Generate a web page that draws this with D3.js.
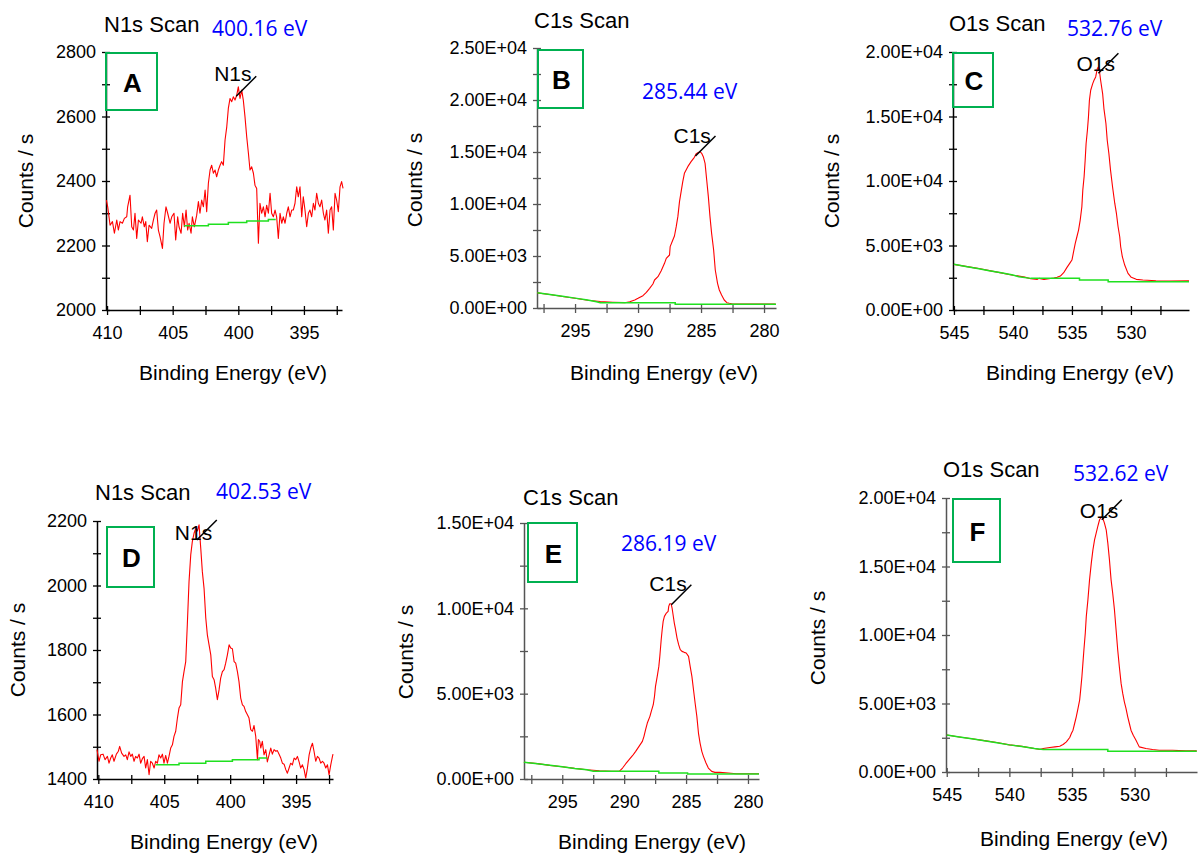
<!DOCTYPE html>
<html>
<head>
<meta charset="utf-8">
<script src="https://cdn.jsdelivr.net/npm/d3@7"></script>
<style>
  body { margin: 0; background: #fff; }
  svg { display: block; }
</style>
</head>
<body>
<div id="chart"></div>
<script>
// data
const panelIds = ['A', 'B', 'C', 'D', 'E', 'F'];
const scanTitles = ['N1s Scan', 'C1s Scan', 'O1s Scan', 'N1s Scan', 'C1s Scan', 'O1s Scan'];
const peakNames = ['N1s', 'C1s', 'O1s', 'N1s', 'C1s', 'O1s'];
const peakEnergies = [400.16, 285.44, 532.76, 402.53, 286.19, 532.62];
const peakMarkCounts = [2663, 14615, 18351, 2141, 10212, 18412];
const xDomains = [[410.08, 392.1], [298.02, 279.05], [545.08, 525.08], [410.1, 392.2], [298.09, 279.11], [545.06, 525.02]];
const yDomains = [[2000, 2800], [0, 25000], [0, 20000], [1400, 2200], [0, 15000], [0, 20000]];
const xTickStep = 2.5;
const xLabelStep = 5;
const yTickSteps = [100, 2500, 2500, 100, 2500, 2500];
const yLabelSteps = [200, 5000, 5000, 200, 5000, 5000];

// [binding energy (eV), counts / s]
const spectrumA = [[410.05,2341],[409.95,2320],[409.77,2263],[409.59,2274],[409.44,2238],[409.26,2279],[409.14,2248],[409.01,2274],[408.83,2269],[408.68,2284],[408.50,2289],[408.43,2320],[408.25,2356],[408.12,2258],[407.99,2248],[407.87,2300],[407.74,2222],[407.61,2279],[407.41,2269],[407.31,2289],[407.16,2258],[407.05,2274],[406.93,2212],[406.80,2263],[406.60,2253],[406.47,2279],[406.34,2300],[406.22,2310],[406.09,2248],[405.96,2227],[405.78,2191],[405.66,2269],[405.51,2320],[405.38,2300],[405.20,2269],[405.07,2289],[404.90,2300],[404.77,2217],[404.62,2289],[404.52,2258],[404.36,2238],[404.24,2300],[404.11,2258],[403.98,2310],[403.86,2248],[403.75,2269],[403.60,2238],[403.50,2289],[403.35,2258],[403.17,2294],[403.04,2336],[402.92,2300],[402.79,2341],[402.66,2320],[402.53,2372],[402.41,2305],[402.28,2393],[402.15,2434],[402.03,2449],[401.90,2424],[401.77,2434],[401.65,2413],[401.52,2434],[401.39,2449],[401.27,2460],[401.14,2449],[401.01,2527],[400.88,2568],[400.76,2625],[400.63,2656],[400.50,2646],[400.38,2661],[400.25,2651],[400.12,2666],[400.00,2692],[399.87,2656],[399.74,2682],[399.62,2651],[399.49,2599],[399.36,2537],[399.23,2486],[399.11,2434],[398.98,2444],[398.85,2424],[398.73,2387],[398.60,2377],[398.47,2207],[398.35,2331],[398.22,2300],[398.09,2320],[397.96,2289],[397.84,2325],[397.71,2300],[397.58,2362],[397.46,2300],[397.33,2289],[397.20,2310],[397.08,2289],[396.95,2222],[396.82,2300],[396.69,2269],[396.57,2289],[396.44,2269],[396.31,2300],[396.19,2320],[396.06,2289],[395.93,2310],[395.81,2310],[395.68,2331],[395.55,2382],[395.43,2351],[395.30,2382],[395.17,2289],[395.05,2351],[394.92,2310],[394.79,2258],[394.66,2300],[394.54,2310],[394.41,2289],[394.28,2331],[394.16,2310],[394.03,2362],[393.90,2331],[393.78,2320],[393.65,2341],[393.52,2300],[393.40,2279],[393.27,2310],[393.14,2238],[393.01,2310],[392.89,2320],[392.76,2248],[392.63,2362],[392.51,2341],[392.38,2305],[392.25,2382],[392.13,2398],[392.02,2377]];
const backgroundA = [[404.13,2261],[402.28,2261],[402.28,2266],[400.76,2266],[400.76,2271],[399.36,2271],[399.36,2276],[397.71,2276],[397.71,2281],[397.15,2281]];

const spectrumB = [[298.0,1450],[297.0,1300],[296.0,1100],[295.0,930],[294.0,750],[293.0,620],[292.0,560],[291.05,513],[290.66,609],[290.26,770],[290.00,930],[289.61,1186],[289.34,1507],[289.08,1891],[288.82,2308],[288.69,2692],[288.42,3013],[288.16,3590],[287.90,4295],[287.76,4776],[287.50,5096],[287.45,5898],[287.24,6539],[287.11,6923],[286.97,7820],[286.84,8782],[286.71,10224],[286.58,11186],[286.45,12147],[286.32,12949],[286.05,13590],[285.79,14070],[285.53,14487],[285.40,14807],[285.26,14936],[285.08,15032],[284.95,14872],[284.82,14551],[284.68,13910],[284.55,12308],[284.42,10705],[284.29,8782],[284.16,7179],[284.00,5577],[283.87,3654],[283.69,2372],[283.55,1731],[283.37,1250],[283.16,770],[282.95,513],[282.76,449],[282.50,385],[281.84,385],[280.79,385],[279.08,385]];
const backgroundB = [[298.0,1470],[297.0,1300],[296.0,1120],[295.0,950],[294.0,760],[293.3,600],[293.0,513],[287.05,513],[287.05,353],[279.05,353]];

const spectrumC = [[545.0,3540],[544.0,3380],[543.0,3230],[542.0,3050],[541.0,2880],[540.0,2700],[539.0,2550],[538.49,2426],[537.93,2375],[537.79,2452],[537.37,2375],[536.95,2426],[536.53,2478],[536.26,2530],[535.98,2633],[535.70,2891],[535.42,3304],[535.19,3614],[535.00,3872],[534.86,4517],[534.72,5162],[534.58,5678],[534.44,6195],[534.30,6969],[534.16,8001],[534.08,9292],[533.97,10324],[533.88,11615],[533.80,12905],[533.69,13938],[533.60,14970],[533.52,16261],[533.41,17035],[533.24,17551],[533.13,17809],[532.99,18068],[532.85,18713],[532.76,18842],[532.68,18583],[532.57,17809],[532.40,16777],[532.29,15615],[532.12,14454],[532.01,13163],[531.87,12131],[531.73,10841],[531.56,9550],[531.37,8259],[531.23,7485],[531.09,6453],[530.95,5678],[530.87,4904],[530.73,4130],[530.53,3484],[530.25,2839],[529.97,2530],[529.55,2375],[528.99,2323],[527.88,2271],[526.76,2246],[525.08,2271]];
const backgroundC = [[545.0,3540],[544.0,3370],[543.0,3210],[542.0,3040],[541.0,2880],[540.0,2720],[539.5,2580],[538.5,2452],[534.36,2452],[534.36,2323],[531.93,2323],[531.93,2194],[525.08,2194]];

const spectrumD = [[410.10,1491],[409.95,1455],[409.82,1475],[409.64,1477],[409.49,1460],[409.31,1470],[409.19,1449],[409.06,1465],[408.94,1475],[408.81,1455],[408.63,1477],[408.48,1486],[408.38,1501],[408.23,1480],[408.05,1470],[407.92,1475],[407.80,1460],[407.67,1484],[407.54,1470],[407.42,1477],[407.29,1455],[407.17,1470],[407.04,1465],[406.91,1477],[406.79,1449],[406.66,1463],[406.53,1470],[406.41,1434],[406.28,1460],[406.15,1413],[406.03,1455],[405.90,1449],[405.77,1434],[405.65,1455],[405.52,1449],[405.40,1475],[405.27,1465],[405.14,1477],[405.02,1449],[404.89,1473],[404.76,1449],[404.64,1470],[404.51,1496],[404.38,1506],[404.26,1532],[404.13,1548],[404.00,1589],[403.88,1620],[403.75,1630],[403.62,1702],[403.50,1733],[403.37,1764],[403.25,1878],[403.12,2012],[402.99,2095],[402.87,2136],[402.74,2162],[402.61,2177],[402.49,2169],[402.36,2188],[402.23,2115],[402.11,2043],[401.98,1991],[401.85,1899],[401.73,1847],[401.60,1816],[401.47,1785],[401.35,1718],[401.22,1708],[401.10,1682],[400.97,1646],[400.84,1677],[400.72,1713],[400.59,1733],[400.46,1739],[400.34,1759],[400.21,1785],[400.08,1816],[399.96,1806],[399.83,1804],[399.70,1764],[399.58,1759],[399.45,1733],[399.33,1702],[399.20,1651],[399.07,1630],[398.95,1625],[398.82,1609],[398.69,1599],[398.57,1589],[398.44,1553],[398.31,1548],[398.19,1566],[398.06,1532],[397.93,1460],[397.86,1522],[397.76,1517],[397.68,1496],[397.56,1517],[397.43,1475],[397.30,1491],[397.18,1453],[397.05,1475],[396.92,1496],[396.80,1477],[396.67,1491],[396.54,1486],[396.42,1488],[396.29,1477],[396.16,1465],[396.04,1449],[395.91,1446],[395.78,1429],[395.66,1418],[395.53,1434],[395.41,1449],[395.28,1444],[395.15,1465],[395.03,1460],[394.90,1470],[394.77,1453],[394.65,1434],[394.52,1444],[394.39,1429],[394.27,1403],[394.14,1434],[394.01,1475],[393.89,1496],[393.76,1511],[393.64,1486],[393.51,1455],[393.38,1470],[393.26,1465],[393.13,1449],[393.00,1455],[392.88,1449],[392.75,1434],[392.62,1444],[392.50,1413],[392.37,1444],[392.24,1470],[392.20,1477]];
const backgroundD = [[405.65,1444],[403.88,1444],[403.88,1449],[401.85,1449],[401.85,1455],[399.83,1455],[399.83,1460],[397.81,1460],[397.81,1465],[397.18,1465]];

const spectrumE = [[298.1,980],[297.0,900],[296.0,800],[295.0,720],[294.0,620],[293.0,540],[292.0,480],[291.0,450],[290.40,447],[290.13,643],[289.87,896],[289.60,1131],[289.33,1365],[289.07,1619],[288.80,1912],[288.53,2205],[288.40,2498],[288.27,2889],[288.13,3279],[287.92,3670],[287.81,3963],[287.65,4353],[287.55,4842],[287.47,5427],[287.33,6013],[287.20,6599],[287.12,7185],[287.01,8162],[286.93,8748],[286.85,9236],[286.75,9529],[286.59,9724],[286.45,9822],[286.40,10115],[286.32,10271],[286.21,10271],[286.13,10017],[286.05,9626],[285.95,9138],[285.87,8845],[285.73,8259],[285.60,7869],[285.47,7576],[285.33,7478],[285.15,7420],[284.99,7381],[284.80,7185],[284.67,6599],[284.53,6013],[284.40,5232],[284.27,4451],[284.13,3670],[284.00,2693],[283.87,2107],[283.73,1619],[283.60,1326],[283.39,936],[283.20,643],[282.93,447],[282.67,389],[282.27,389],[281.60,350],[280.93,311],[279.11,311]];
const backgroundE = [[298.1,980],[297.0,900],[296.0,810],[295.0,720],[294.0,620],[293.0,540],[292.5,460],[287.2,447],[287.2,350],[284.88,350],[284.88,291],[279.11,291]];

const spectrumF = [[545.0,2700],[544.0,2560],[543.0,2430],[542.0,2290],[541.0,2150],[540.0,1980],[539.0,1870],[538.0,1720],[537.57,1639],[537.30,1712],[536.77,1785],[536.36,1834],[535.98,1883],[535.71,2004],[535.45,2200],[535.18,2516],[535.05,2809],[534.92,3053],[534.79,3540],[534.66,4028],[534.52,4638],[534.39,5247],[534.31,5978],[534.21,6954],[534.13,7929],[534.05,8904],[533.94,10123],[533.86,11342],[533.73,12561],[533.60,14024],[533.46,15243],[533.33,16218],[533.20,16949],[533.07,17437],[532.94,17925],[532.80,18412],[532.67,18607],[532.54,18534],[532.41,18168],[532.27,17681],[532.14,16706],[532.01,15487],[531.88,14024],[531.75,13049],[531.61,11830],[531.48,10367],[531.35,8904],[531.22,7685],[531.08,6466],[530.95,5735],[530.82,5125],[530.69,4638],[530.55,4028],[530.42,3540],[530.29,3053],[530.11,2687],[529.89,2321],[529.63,1834],[529.10,1712],[528.57,1639],[528.04,1590],[526.98,1590],[525.92,1541],[525.04,1541]];
const backgroundF = [[545.0,2700],[544.0,2560],[543.0,2420],[542.0,2280],[541.0,2130],[540.0,1980],[539.0,1860],[538.0,1720],[537.3,1639],[532.14,1639],[532.14,1517],[525.04,1517]];

const spectra = [spectrumA, spectrumB, spectrumC, spectrumD, spectrumE, spectrumF];
const backgrounds = [backgroundA, backgroundB, backgroundC, backgroundD, backgroundE, backgroundF];

// layout (pixel positions of each panel's parts)
const layout = [
  { plot: [106, 342, 52, 310], title: [104, 32], ev: [212, 36], xLabel: [233, 380], yLabel: [33, 181], box: [106, 53, 51, 57], annDy: -15, axis: '#000' },
  { plot: [537, 776, 48, 308], title: [534, 28], ev: [642, 99], xLabel: [664, 380], yLabel: [422, 180], box: [538, 50, 45, 58], annDy: -13, axis: '#555' },
  { plot: [953, 1189, 52, 310], title: [949, 31], ev: [1067, 36], xLabel: [1080, 380], yLabel: [839, 181], box: [953, 53, 40, 54], annDy: -2, axis: '#000' },
  { plot: [97, 333, 521, 779], title: [95, 500], ev: [216, 499], xLabel: [224, 849], yLabel: [25, 650], box: [107, 527, 47, 60], annDy: 0, axis: '#000' },
  { plot: [524, 759, 523, 779], title: [523, 505], ev: [621, 551], xLabel: [652, 849], yLabel: [413, 652], box: [528, 523, 49, 59], annDy: -14, axis: '#555' },
  { plot: [946, 1197, 498, 772], title: [943, 477], ev: [1073, 481], xLabel: [1074, 846], yLabel: [825, 638], box: [953, 499, 47, 63], annDy: -2, axis: '#555' },
];

const font = '"Liberation Sans", Arial, sans-serif';
const blueFont = '"Open Sans", sans-serif';

// tick label like 2.50E+04
function sciFormat(v) {
  const parts = v.toExponential(2).split('e');
  const sign = parts[1][0];
  const exp = parts[1].slice(1).padStart(2, '0');
  return `${parts[0]}E${sign}${exp}`;
}

function stepTicks(domain, step) {
  const lo = Math.min(domain[0], domain[1]);
  const hi = Math.max(domain[0], domain[1]);
  return d3.range(Math.ceil(lo / step - 1e-9) * step, hi + 1e-9, step);
}

const svg = d3.select('#chart')
  .append('svg')
  .attr('width', 1201)
  .attr('height', 855)
  .style('background', '#fff');

panelIds.forEach((id, i) => {
  const lay = layout[i];
  const [left, right, top, bottom] = lay.plot;
  const g = svg.append('g').attr('class', 'panel-' + id);

  const x = d3.scaleLinear().domain(xDomains[i]).range([left, right]);
  const y = d3.scaleLinear().domain(yDomains[i]).range([bottom, top]);

  const isSci = yDomains[i][1] >= 10000;
  const yLabelStep = yLabelSteps[i];

  // x axis
  const xAxis = d3.axisBottom(x)
    .tickValues(stepTicks(xDomains[i], xTickStep))
    .tickFormat(v => Math.abs(v / xLabelStep - Math.round(v / xLabelStep)) < 1e-6 ? d3.format('d')(v) : '')
    .tickSizeInner(5)
    .tickSizeOuter(0)
    .tickPadding(11);

  const gx = g.append('g')
    .attr('transform', `translate(0,${bottom})`)
    .call(xAxis);
  gx.select('.domain').attr('stroke', lay.axis).attr('stroke-width', 1.5);
  gx.selectAll('.tick line').attr('stroke', lay.axis).attr('stroke-width', 1.3).attr('y1', -4).attr('y2', 5);
  gx.selectAll('.tick text')
    .attr('fill', '#000')
    .style('font-family', font)
    .style('font-size', '18px');

  // y axis
  const yAxis = d3.axisLeft(y)
    .tickValues(stepTicks(yDomains[i], yTickSteps[i]))
    .tickFormat(v => (Math.round(v) % yLabelStep === 0) ? (isSci ? sciFormat(v) : d3.format('d')(v)) : '')
    .tickSizeInner(4)
    .tickSizeOuter(0)
    .tickPadding(6);

  const gy = g.append('g')
    .attr('transform', `translate(${left},0)`)
    .call(yAxis);
  gy.select('.domain').attr('stroke', lay.axis).attr('stroke-width', 1.5);
  gy.selectAll('.tick line').attr('stroke', lay.axis).attr('stroke-width', 1.3).attr('x1', 4).attr('x2', -4);
  gy.selectAll('.tick text')
    .attr('fill', '#000')
    .style('font-family', font)
    .style('font-size', '18px');

  const line = d3.line()
    .x(d => x(d[0]))
    .y(d => y(d[1]));

  // measured spectrum
  g.append('path')
    .datum(spectra[i])
    .attr('d', line)
    .attr('fill', 'none')
    .attr('stroke', '#ff0000')
    .attr('stroke-width', 1.1)
    .attr('stroke-linejoin', 'round');

  // background
  g.append('path')
    .datum(backgrounds[i])
    .attr('d', line)
    .attr('fill', 'none')
    .attr('stroke', '#1fe01f')
    .attr('stroke-width', 1.5);

  // peak marker and label
  const px = x(peakEnergies[i]);
  const py = y(peakMarkCounts[i]);
  g.append('line')
    .attr('x1', px).attr('y1', py)
    .attr('x2', px + 20).attr('y2', py - 20)
    .attr('stroke', '#000')
    .attr('stroke-width', 1.5);
  g.append('text')
    .attr('x', px - 22)
    .attr('y', py + lay.annDy)
    .style('font-family', font)
    .style('font-size', '21px')
    .attr('fill', '#000')
    .text(peakNames[i]);

  // titles
  g.append('text')
    .attr('x', lay.title[0])
    .attr('y', lay.title[1])
    .style('font-family', font)
    .style('font-size', '22px')
    .attr('fill', '#000')
    .text(scanTitles[i]);

  g.append('text')
    .attr('x', lay.ev[0])
    .attr('y', lay.ev[1])
    .style('font-family', blueFont)
    .style('font-size', '21px')
    .attr('fill', '#0000ff')
    .text(`${peakEnergies[i].toFixed(2)} eV`);

  // axis labels
  g.append('text')
    .attr('x', lay.xLabel[0])
    .attr('y', lay.xLabel[1])
    .attr('text-anchor', 'middle')
    .style('font-family', font)
    .style('font-size', '21px')
    .attr('fill', '#000')
    .text('Binding Energy (eV)');

  g.append('text')
    .attr('transform', `translate(${lay.yLabel[0]},${lay.yLabel[1]}) rotate(-90)`)
    .attr('text-anchor', 'middle')
    .style('font-family', font)
    .style('font-size', '21px')
    .attr('fill', '#000')
    .text('Counts / s');

  // panel letter box
  const [bx, by, bw, bh] = lay.box;
  g.append('rect')
    .attr('x', bx).attr('y', by)
    .attr('width', bw).attr('height', bh)
    .attr('fill', 'none')
    .attr('stroke', '#00b050')
    .attr('stroke-width', 2);
  g.append('text')
    .attr('x', bx + bw / 2 + 1)
    .attr('y', by + bh / 2 + 10)
    .attr('text-anchor', 'middle')
    .style('font-family', font)
    .style('font-size', '26px')
    .style('font-weight', 'bold')
    .attr('fill', '#000')
    .text(id);
});
</script>
</body>
</html>
